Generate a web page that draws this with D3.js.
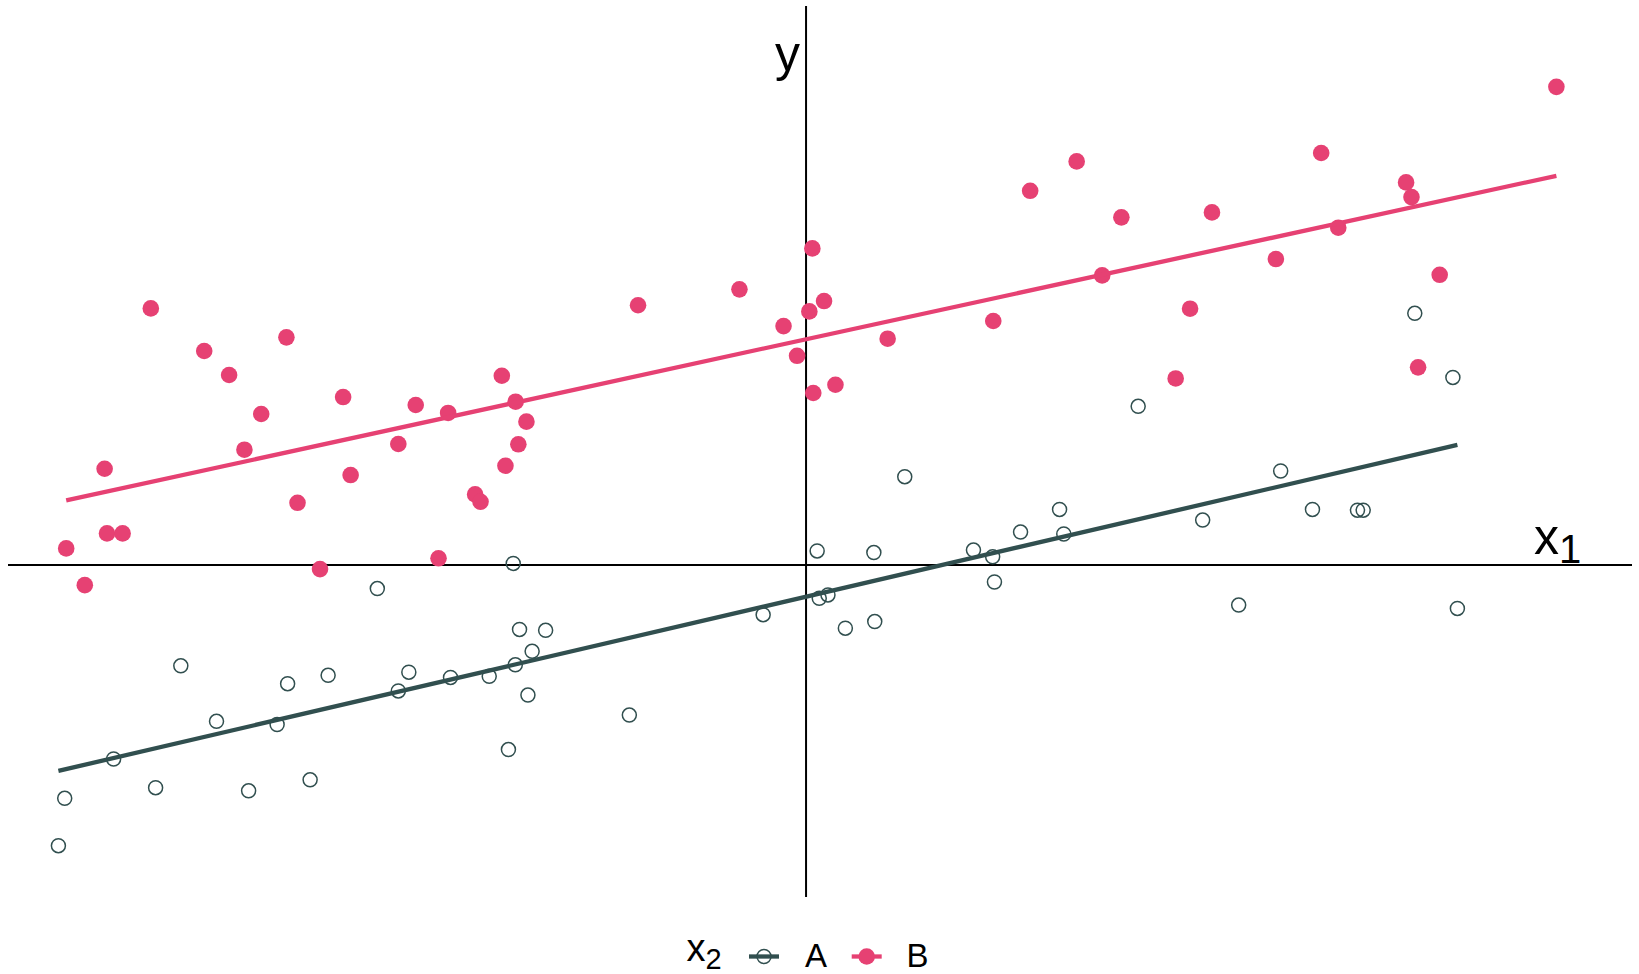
<!DOCTYPE html>
<html>
<head>
<meta charset="utf-8">
<script src="https://cdn.jsdelivr.net/npm/d3@7"></script>
<style>
  body { margin: 0; background: #ffffff; }
  svg { display: block; }
  text { font-family: "Liberation Sans", Arial, Helvetica, sans-serif; fill: #000; }
</style>
</head>
<body>
<svg id="chart" width="1639" height="974"></svg>
<script>
// ---------------- data ----------------
const groups = ["A", "B"];
const groupColors = ["#314f4f", "#e64173"];

// group A (x2 = A): hollow circles
const x1A = [-2.492, -2.471, -2.308, -2.168, -2.084, -1.965, -1.858, -1.763, -1.728, -1.653,
             -1.593, -1.429, -1.359, -1.324, -1.185, -1.056, -0.992, -0.976, -0.969, -0.955,
             -0.927, -0.913, -0.868, -0.589, -0.143, 0.037, 0.044, 0.073, 0.131, 0.226,
             0.229, 0.329, 0.558, 0.622, 0.628, 0.715, 0.845, 0.859, 1.107, 1.322,
             1.442, 1.582, 1.688, 1.838, 1.857, 2.029, 2.156, 2.171];
const yA  = [-1.871, -1.555, -1.293, -1.484, -0.672, -1.042, -1.505, -1.063, -0.791, -1.432,
             -0.735, -0.157, -0.839, -0.714, -0.749, -0.742, -1.230, 0.011, -0.665, -0.429,
             -0.867, -0.575, -0.435, -1.000, -0.331, 0.094, -0.222, -0.199, -0.421, 0.083,
             -0.377, 0.589, 0.100, 0.055, -0.113, 0.220, 0.371, 0.207, 1.058, 0.300,
             -0.267, 0.627, 0.371, 0.366, 0.366, 1.678, 1.251, -0.289];

// group B (x2 = B): filled circles
const x1B = [-2.466, -2.404, -2.338, -2.330, -2.278, -2.184, -2.006, -1.923, -1.872, -1.816,
             -1.732, -1.695, -1.620, -1.543, -1.518, -1.359, -1.301, -1.225, -1.193, -1.103,
             -1.085, -1.014, -1.002, -0.968, -0.959, -0.932, -0.560, -0.222, -0.075, -0.030,
             0.021, 0.011, 0.024, 0.060, 0.098, 0.272, 0.624, 0.747, 0.902, 0.987,
             1.051, 1.232, 1.280, 1.353, 1.566, 1.717, 1.774, 2.000, 2.018, 2.040,
             2.112, 2.501];
const yB  = [0.111, -0.134, 0.642, 0.211, 0.211, 1.711, 1.427, 1.267, 0.769, 1.007,
             1.518, 0.415, -0.027, 1.120, 0.600, 0.807, 1.067, 0.045, 1.014, 0.471,
             0.422, 1.262, 0.662, 1.089, 0.805, 0.956, 1.732, 1.838, 1.593, 1.395,
             2.111, 1.691, 1.147, 1.760, 1.202, 1.509, 1.627, 2.495, 2.691, 1.931,
             2.318, 1.244, 1.709, 2.351, 2.040, 2.747, 2.249, 2.551, 2.453, 1.318,
             1.935, 3.188];

const xLabel = "x", xLabelSub = "1";
const yLabel = "y";
const legendTitle = "x", legendTitleSub = "2";

// ---------------- scales ----------------
const svg = d3.select("#chart");
const x = d3.scaleLinear().domain([-2.66, 2.753]).range([8, 1632]);
const y = d3.scaleLinear().domain([-2.213, 3.727]).range([897, 6]);

// least-squares fit per group
function fit(xs, ys) {
  const mx = d3.mean(xs), my = d3.mean(ys);
  let sxy = 0, sxx = 0;
  xs.forEach((v, i) => { sxy += (v - mx) * (ys[i] - my); sxx += (v - mx) * (v - mx); });
  const b = sxy / sxx, a = my - b * mx;
  const [lo, hi] = d3.extent(xs);
  return [{x: lo, y: a + b * lo}, {x: hi, y: a + b * hi}];
}

const dataA = x1A.map((v, i) => ({x: v, y: yA[i]}));
const dataB = x1B.map((v, i) => ({x: v, y: yB[i]}));

// axes (hline / vline through origin)
svg.append("line")
  .attr("x1", x(x.domain()[0])).attr("x2", x(x.domain()[1]))
  .attr("y1", y(0)).attr("y2", y(0))
  .attr("stroke", "#000").attr("stroke-width", 2);
svg.append("line")
  .attr("x1", x(0)).attr("x2", x(0))
  .attr("y1", y(y.domain()[0])).attr("y2", y(y.domain()[1]))
  .attr("stroke", "#000").attr("stroke-width", 2);

// points
svg.append("g").selectAll("circle").data(dataA).join("circle")
  .attr("cx", d => x(d.x)).attr("cy", d => y(d.y)).attr("r", 7)
  .attr("fill", "none").attr("stroke", groupColors[0]).attr("stroke-width", 1.5);
svg.append("g").selectAll("circle").data(dataB).join("circle")
  .attr("cx", d => x(d.x)).attr("cy", d => y(d.y)).attr("r", 8.3)
  .attr("fill", groupColors[1]);

// fitted lines
const lineGen = d3.line().x(d => x(d.x)).y(d => y(d.y));
[[dataA, 0], [dataB, 1]].forEach(([data, gi]) => {
  svg.append("path")
    .attr("d", lineGen(fit(data.map(d => d.x), data.map(d => d.y))))
    .attr("fill", "none").attr("stroke", groupColors[gi]).attr("stroke-width", 4.3);
});

// axis labels
const xl = svg.append("text").attr("x", 1534).attr("y", 554).attr("font-size", 50);
xl.append("tspan").text(xLabel);
xl.append("tspan").attr("font-size", 40).attr("dy", 8.5).text(xLabelSub);

svg.append("text").attr("x", 800).attr("y", 71).attr("font-size", 50)
  .attr("text-anchor", "end").text(yLabel);

// legend
const lt = svg.append("text").attr("x", 686.5).attr("y", 961).attr("font-size", 38);
lt.append("tspan").text(legendTitle);
lt.append("tspan").attr("font-size", 29).attr("dy", 7.5).text(legendTitleSub);

const keyX = [764, 866.7];
const labelX = [805, 906.5];
const keyY = 956.5;
groups.forEach((g, i) => {
  svg.append("line")
    .attr("x1", keyX[i] - 15).attr("x2", keyX[i] + 15)
    .attr("y1", keyY).attr("y2", keyY)
    .attr("stroke", groupColors[i]).attr("stroke-width", 4.3);
  if (i === 0) {
    svg.append("circle").attr("cx", keyX[i]).attr("cy", keyY).attr("r", 7)
      .attr("fill", "none").attr("stroke", groupColors[i]).attr("stroke-width", 1.5);
  } else {
    svg.append("circle").attr("cx", keyX[i]).attr("cy", keyY).attr("r", 8.3)
      .attr("fill", groupColors[i]);
  }
  svg.append("text").attr("x", labelX[i]).attr("y", 967).attr("font-size", 33).text(g);
});
</script>
</body>
</html>
